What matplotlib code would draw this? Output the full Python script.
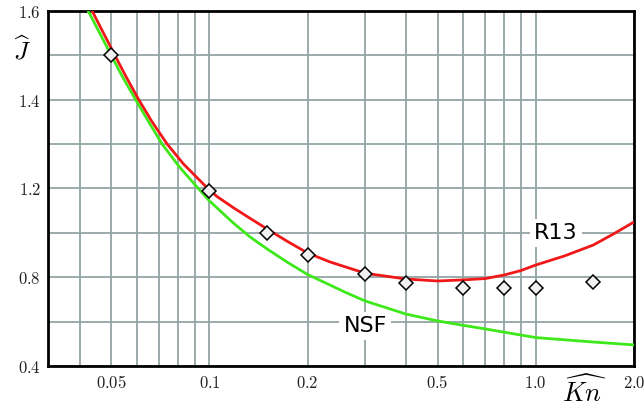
import numpy as np
import matplotlib
matplotlib.use("Agg")
from matplotlib import pyplot as plt
from matplotlib.ticker import FixedLocator, NullFormatter

plt.rcParams['mathtext.fontset'] = 'cm'

# R13 curve
kn_r13 = [0.0437, 0.0514, 0.0555, 0.0605, 0.0666, 0.0742, 0.0833, 0.097, 0.1054,
          0.1182, 0.1333, 0.15, 0.1726, 0.2, 0.234, 0.3, 0.4, 0.5, 0.6, 0.7,
          0.8, 0.9, 1.0, 1.225, 1.5, 1.73, 2.0]
j_r13 = [1.6, 1.499, 1.452, 1.402, 1.351, 1.3, 1.255, 1.206, 1.164,
         1.114, 1.065, 1.018, 0.963, 0.909, 0.869, 0.818, 0.792, 0.783, 0.788, 0.794,
         0.81, 0.83, 0.855, 0.896, 0.945, 0.995, 1.049]

# NSF curve
kn_nsf = [0.0425, 0.05, 0.0541, 0.0592, 0.065, 0.0716, 0.0808, 0.0924, 0.1,
          0.1182, 0.1333, 0.1507, 0.1726, 0.2, 0.234, 0.26, 0.3, 0.4, 0.5,
          0.6, 0.7, 1.0, 1.225, 1.5, 2.0]
j_nsf = [1.6, 1.5, 1.452, 1.402, 1.351, 1.3, 1.249, 1.2, 1.144,
         1.045, 0.981, 0.926, 0.869, 0.812, 0.765, 0.733, 0.693, 0.634, 0.603,
         0.583, 0.567, 0.528, 0.518, 0.508, 0.495]

# DSMC points
kn_pts = [0.05, 0.1, 0.15, 0.2, 0.3, 0.4, 0.6, 0.8, 1.0, 1.5]
j_pts = [1.5, 1.19, 1.0, 0.9, 0.814, 0.775, 0.75, 0.75, 0.75, 0.777]

x_major = [0.05, 0.1, 0.2, 0.5, 1.0, 2.0]
x_major_labels = ['0.05', '0.1', '0.2', '0.5', '1.0', '2.0']
x_minor = [0.04, 0.06, 0.07, 0.08, 0.09, 0.3, 0.4, 0.6, 0.7, 0.8, 0.9]
y_major = [0.4, 0.8, 1.2, 1.4, 1.6]
y_minor = [0.6, 1.0, 1.3, 1.5]

# the printed y labels are equally spaced, so map them piecewise
pos = np.arange(len(y_major))


def fwd(v):
    return np.interp(v, y_major, pos)


def inv(p):
    return np.interp(p, pos, y_major)


fig = plt.figure(figsize=(6.44, 4.12), dpi=100)
ax = fig.add_axes([0.0745, 0.1117, 0.9100, 0.8617])
ax.set_xscale('log')
ax.set_yscale('function', functions=(fwd, inv))
ax.set_xlim(0.032, 2.0)
ax.set_ylim(0.4, 1.6)

ax.plot(kn_nsf, j_nsf, color='#3ee81a', lw=2.0, zorder=3)
ax.plot(kn_r13, j_r13, color='#f01818', lw=2.0, zorder=4)
ax.plot(kn_pts, j_pts, 'D', ms=7.3, mfc='#f0f0f0', mec='black', mew=1.1,
        zorder=5, clip_on=False)

ax.xaxis.set_major_locator(FixedLocator(x_major))
ax.xaxis.set_minor_locator(FixedLocator(x_minor))
ax.set_xticklabels(['$' + s + '$' for s in x_major_labels])
ax.xaxis.set_minor_formatter(NullFormatter())
ax.yaxis.set_major_locator(FixedLocator(y_major))
ax.yaxis.set_minor_locator(FixedLocator(y_minor))
ax.set_yticklabels(['$%.1f$' % v for v in y_major])
ax.yaxis.set_minor_formatter(NullFormatter())

ax.grid(True, which='both', color='#93a5a5', lw=1.3)
ax.set_axisbelow(True)
ax.tick_params(which='both', length=0, labelsize=12, colors='#222222')
ax.tick_params(axis='x', pad=6)
ax.tick_params(axis='y', pad=5)
for s in ax.spines.values():
    s.set_linewidth(2.0)
    s.set_color('black')

box = dict(facecolor='white', edgecolor='none', pad=3)
ax.text(1.15, 1.0, 'R13', ha='center', va='center', fontsize=16, bbox=box, zorder=6)
ax.text(0.3, 0.58, 'NSF', ha='center', va='center', fontsize=16, bbox=box, zorder=6)

fig.text(22 / 644, 1 - 50 / 412, r'$\widehat{J}$', ha='center', va='center', fontsize=18)
fig.text(584 / 644, 1 - 392 / 412, r'$\widehat{Kn}$', ha='center', va='center', fontsize=19)

fig.savefig('out.png', dpi=100)
